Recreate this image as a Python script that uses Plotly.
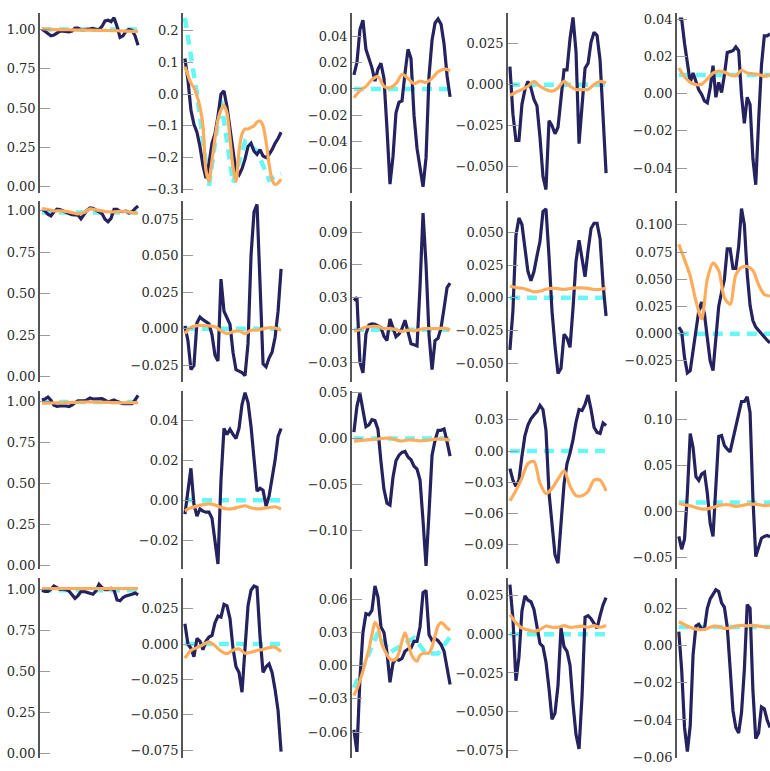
import numpy as np
import plotly.graph_objects as go

# ---------------- data ----------------
# raw_* : noisy per-step estimate (navy)
# smooth_* : smoothed estimate (orange)
# true_* : reference coefficient (cyan, dashed)
# suffix = row, column

raw_11 = [1.004, 0.99, 0.975, 0.96, 0.965, 0.98, 0.99, 0.99, 0.985, 0.985, 0.99, 1.01, 1.01, 1.0, 1.0, 1.0, 1.005,
          1.008, 1.0, 1.0, 1.02, 1.055, 1.06, 1.05, 1.075, 1.02, 0.95, 0.96, 0.99, 1.0, 0.995, 0.96, 0.90]
smooth_11 = [1.005, 1.003, 1.0, 0.999, 1.0, 0.998, 0.997, 0.998, 0.996, 0.995, 0.995, 0.994, 0.993, 0.992, 0.99,
             0.989, 0.988]
true_11 = [1.0, 1.0, 1.0, 1.0, 1.0, 1.0, 1.0, 1.0, 1.0]

raw_12 = [0.112, 0.045, -0.05, -0.095, -0.12, -0.165, -0.225, -0.265, -0.22, -0.155, -0.125, -0.07, 0.0, 0.01,
          -0.04, -0.11, -0.19, -0.245, -0.255, -0.235, -0.205, -0.165, -0.155, -0.18, -0.19, -0.175, -0.195, -0.2,
          -0.19, -0.175, -0.155, -0.14, -0.12]
smooth_12 = [0.086, 0.06, 0.035, 0.02, -0.005, -0.04, -0.1, -0.24, -0.275, -0.21, -0.14, -0.08, -0.05, -0.035,
             -0.06, -0.14, -0.23, -0.275, -0.18, -0.125, -0.11, -0.11, -0.105, -0.1, -0.088, -0.085, -0.1, -0.15,
             -0.22, -0.27, -0.285, -0.28, -0.268]
true_12 = [0.24, 0.0, -0.29, -0.02, -0.28, -0.15, -0.18, -0.27, -0.25]

raw_13 = [0.0107, 0.02, 0.045, 0.052, 0.03, 0.023, 0.016, 0.006, 0.015, 0.0195, 0.008, -0.03, -0.072, -0.0513,
          -0.018, -0.01, -0.009, 0.012, 0.03, 0.023, -0.02, -0.045, -0.058, -0.074, -0.052, 0.01, 0.037, 0.05,
          0.053, 0.049, 0.034, 0.01, -0.006]
smooth_13 = [-0.0067, -0.0012, 0.002, 0.007, 0.0095, 0.002, 0.001, 0.004, 0.011, 0.008, 0.004, 0.006, 0.005, 0.008,
             0.013, 0.015, 0.014]
true_13 = [0.0, 0.0, 0.0, 0.0, 0.0, 0.0, 0.0, 0.0, 0.0]

raw_14 = [0.011, -0.018, -0.034, -0.034, -0.012, -0.003, 0.002, -0.002, -0.009, -0.013, -0.032, -0.056, -0.064,
          -0.022, -0.025, -0.030, -0.026, -0.01, 0.009, 0.009, 0.028, 0.041, 0.02, -0.036, -0.012, 0.01, 0.013,
          0.026, 0.032, 0.03, 0.015, -0.018, -0.054]
smooth_14 = [-0.0066, -0.0046, -0.003, -0.001, 0.002, -0.001, -0.003, -0.004, -0.002, 0.002, -0.001, -0.003,
             -0.003, -0.003, 0.0, 0.002, 0.001]
true_14 = [0.0, 0.0, 0.0, 0.0, 0.0, 0.0, 0.0, 0.0, 0.0]

raw_15 = [0.040, 0.040, 0.027, 0.016, 0.006, 0.011, 0.006, 0.002, -0.0005, -0.004, -0.005, 0.003, 0.015, -0.002,
          0.006, 0.0005, 0.01, 0.022, 0.0225, 0.023, 0.025, 0.023, -0.001, -0.016, -0.002, -0.006, -0.035, -0.049,
          -0.015, 0.015, 0.031, 0.031, 0.032]
smooth_15 = [0.0137, 0.009, 0.006, 0.0048, 0.005, 0.0078, 0.011, 0.012, 0.0115, 0.01, 0.0095, 0.0125, 0.011,
             0.0106, 0.0102, 0.0092, 0.0101]
true_15 = [0.01, 0.01, 0.01, 0.01, 0.01, 0.01, 0.01, 0.01, 0.01]

raw_21 = [1.01, 1.0, 0.98, 0.97, 0.995, 1.01, 1.008, 1.002, 0.995, 0.985, 0.977, 0.976, 0.975, 0.952, 0.978, 1.003,
          1.018, 1.016, 1.005, 0.995, 0.984, 0.95, 0.935, 0.955, 1.01, 1.01, 0.998, 0.996, 0.998, 0.988, 0.995,
          1.014, 1.03]
smooth_21 = [1.014, 1.008, 1.0, 1.0, 0.997, 0.99, 0.982, 0.99, 1.012, 1.006, 1.0, 0.994, 0.994, 0.998, 0.996, 0.99,
             0.986]
true_21 = [0.99, 0.99, 0.99, 0.99, 0.99, 0.99, 0.99, 0.99, 0.99]

raw_22 = [0.002, -0.008, -0.028, -0.025, 0.004, 0.008, 0.0062, 0.005, 0.0035, -0.004, -0.018, -0.022, 0.034, 0.012,
          0.008, 0.003, -0.016, -0.028, -0.029, -0.030, -0.032, -0.01, 0.05, 0.08, 0.085, 0.026, -0.024, -0.026,
          -0.02, -0.016, -0.006, 0.012, 0.041]
smooth_22 = [-0.0033, 0.001, 0.0022, 0.0022, 0.002, 0.0013, -0.0013, -0.0033, -0.002, -0.0015, -0.0033, -0.001,
             -0.001, 0.0, 0.0007, 0.0005, -0.0011]
true_22 = [0.0, 0.0, 0.0, 0.0, 0.0, 0.0, 0.0, 0.0, 0.0]

raw_23 = [0.027, 0.030, -0.03, -0.04, -0.004, 0.0043, 0.0054, 0.005, 0.0035, 0.002, -0.006, -0.01, 0.01, 0.002,
          -0.0064, -0.004, 0.001, 0.0088, -0.0034, -0.013, -0.014, -0.015, 0.04, 0.108, 0.06, -0.005, -0.037, -0.01,
          -0.008, 0.002, 0.02, 0.039, 0.0432]
smooth_23 = [-0.0015, 0.0003, 0.0025, 0.003, 0.0028, 0.001, 0.001, 0.0, -0.0015, -0.0003, -0.001, 0.0003, 0.001,
             0.001, 0.001, 0.0015, -0.0003]
true_23 = [0.0, 0.0, 0.0, 0.0, 0.0, 0.0, 0.0, 0.0, 0.0]

raw_24 = [-0.040, -0.01, 0.0476, 0.061, 0.056, 0.036, 0.02, 0.013, 0.02, 0.032, 0.043, 0.066, 0.068, 0.032, -0.01,
          -0.037, -0.058, -0.054, -0.028, -0.031, -0.038, -0.008, 0.028, 0.044, 0.028, 0.016, 0.036, 0.053, 0.057,
          0.057, 0.045, 0.01, -0.014]
smooth_24 = [0.0088, 0.0078, 0.0072, 0.006, 0.0045, 0.005, 0.0065, 0.0072, 0.007, 0.0063, 0.007, 0.0075, 0.0075,
             0.0071, 0.0063, 0.0063, 0.0075]
true_24 = [0.0, 0.0, 0.0, 0.0, 0.0, 0.0, 0.0, 0.0, 0.0]

raw_25 = [0.006, 0.002, -0.022, -0.036, -0.034, -0.015, 0.005, 0.021, 0.029, 0.018, -0.004, -0.025, -0.034, 0.0,
          0.025, 0.038, 0.05, 0.078, 0.078, 0.06, 0.06, 0.08, 0.115, 0.1, 0.055, 0.026, 0.012, 0.006, 0.003, -0.001,
          -0.004, -0.006, -0.0084]
smooth_25 = [0.082, 0.068, 0.053, 0.030, 0.0136, 0.05, 0.0648, 0.058, 0.033, 0.027, 0.054, 0.0608, 0.0617, 0.058,
             0.045, 0.036, 0.0346]
true_25 = [0.0, 0.0, 0.0, 0.0, 0.0, 0.0, 0.0, 0.0, 0.0]

raw_31 = [1.012, 1.018, 1.03, 1.01, 0.98, 0.973, 0.975, 0.976, 0.975, 0.972, 0.98, 0.995, 1.006, 1.006, 1.006,
          1.012, 1.024, 1.018, 1.018, 1.022, 1.02, 1.01, 1.0, 1.006, 1.012, 1.002, 0.994, 0.989, 0.99, 0.992, 0.99,
          1.012, 1.04]
smooth_31 = [0.992, 0.993, 0.994, 0.995, 0.996, 0.997, 0.998, 0.999, 1.0, 0.999, 0.998, 0.997, 0.996, 0.995, 0.995,
             0.996, 0.996]
true_31 = [1.0, 1.0, 1.0, 1.0, 1.0, 1.0, 1.0, 1.0, 1.0]

raw_32 = [-0.007, 0.004, 0.016, -0.002, -0.008, -0.0044, -0.0055, -0.006, -0.006, -0.009, -0.02, -0.032, 0.01,
          0.036, 0.033, 0.0355, 0.033, 0.031, 0.036, 0.048, 0.054, 0.049, 0.037, 0.02, 0.0045, 0.006, 0.005, -0.003,
          0.002, 0.011, 0.02, 0.032, 0.036]
smooth_32 = [-0.0053, -0.0038, -0.003, -0.0022, -0.0018, -0.0024, -0.0036, -0.0044, -0.0042, -0.0034, -0.0028,
             -0.0038, -0.0044, -0.0041, -0.0037, -0.0033, -0.0044]
true_32 = [0.0, 0.0, 0.0, 0.0, 0.0, 0.0, 0.0, 0.0, 0.0]

raw_33 = [0.007, 0.035, 0.049, 0.03, 0.013, 0.015, 0.0205, 0.0195, 0.01, -0.025, -0.055, -0.07, -0.072, -0.042,
          -0.024, -0.018, -0.015, -0.014, -0.02, -0.023, -0.03, -0.033, -0.045, -0.089, -0.138, -0.08, -0.018,
          -0.002, 0.009, 0.009, 0.0105, -0.0036, -0.019]
smooth_33 = [-0.0028, -0.0022, -0.0015, -0.001, -0.0004, 0.0004, 0.0003, -0.0015, -0.0026, -0.0015, -0.0018,
             -0.0025, -0.002, -0.0012, -0.0003, -0.0005, -0.0018]
true_33 = [0.0, 0.0, 0.0, 0.0, 0.0, 0.0, 0.0, 0.0, 0.0]

raw_34 = [-0.017, -0.028, -0.034, -0.028, -0.005, 0.015, 0.025, 0.031, 0.0348, 0.038, 0.044, 0.04, 0.02, -0.04,
          -0.07, -0.1, -0.108, -0.072, -0.032, -0.012, -0.002, 0.011, 0.028, 0.04, 0.039, 0.045, 0.054, 0.04, 0.023,
          0.018, 0.017, 0.027, 0.0247]
smooth_34 = [-0.048, -0.038, -0.026, -0.012, -0.010, -0.031, -0.041, -0.036, -0.027, -0.019, -0.0337, -0.043,
             -0.043, -0.039, -0.028, -0.028, -0.0385]
true_34 = [0.0, 0.0, 0.0, 0.0, 0.0, 0.0, 0.0, 0.0, 0.0]

raw_35 = [-0.027, -0.041, -0.03, 0.02, 0.085, 0.07, 0.038, 0.034, 0.041, 0.043, 0.02, -0.013, -0.027, 0.03, 0.082,
          0.083, 0.072, 0.068, 0.065, 0.079, 0.093, 0.109, 0.12, 0.12, 0.125, 0.108, 0.015, -0.049, -0.04, -0.029,
          -0.027, -0.026, -0.0275]
smooth_35 = [0.0089, 0.0075, 0.0062, 0.0045, 0.003, 0.003, 0.0045, 0.0065, 0.0075, 0.0072, 0.0058, 0.0065, 0.0078,
             0.0082, 0.0076, 0.0066, 0.0071]
true_35 = [0.01, 0.01, 0.01, 0.01, 0.01, 0.01, 0.01, 0.01, 0.01]

raw_41 = [0.994, 0.988, 0.988, 1.0, 1.02, 1.01, 1.0, 1.0, 0.998, 0.99, 0.97, 0.945, 0.962, 0.986, 0.987, 0.98,
          0.972, 0.97, 0.99, 1.03, 1.01, 0.998, 0.998, 1.006, 0.995, 0.935, 0.93, 0.95, 0.96, 0.964, 0.97, 0.978,
          0.966]
smooth_41 = [1.005, 1.005, 1.004, 1.004, 1.005, 1.005, 1.004, 1.004, 1.005, 1.005, 1.004, 1.004, 1.005, 1.005,
             1.004, 1.004, 1.005]
true_41 = [0.995, 0.995, 0.995, 0.995, 0.995, 0.995, 0.995, 0.995, 0.995]

raw_42 = [0.0143, 0.0, -0.003, -0.009, 0.004, 0.002, -0.004, 0.002, 0.005, 0.006, 0.015, 0.0198, 0.019, 0.028,
          0.027, 0.018, -0.003, -0.016, -0.02, -0.034, -0.003, 0.027, 0.038, 0.041, 0.04, 0.005, -0.02, -0.016,
          -0.014, -0.02, -0.032, -0.047, -0.076]
smooth_42 = [-0.01, -0.0045, -0.0025, -0.0005, 0.0016, -0.0012, -0.005, -0.0068, -0.0043, -0.0035, -0.0065,
             -0.0058, -0.0045, -0.0038, -0.0025, -0.0022, -0.0053]
true_42 = [0.0, 0.0, 0.0, 0.0, 0.0, 0.0, 0.0, 0.0, 0.0]

raw_43 = [-0.058, -0.078, -0.012, 0.03, 0.047, 0.046, 0.05, 0.072, 0.062, 0.035, 0.03, 0.012, -0.015, 0.0024,
          0.006, 0.005, 0.0065, 0.013, 0.015, 0.016, 0.022, 0.022, 0.035, 0.066, 0.068, 0.028, 0.023, 0.0245,
          0.0225, 0.019, 0.013, -0.002, -0.017]
smooth_43 = [-0.027, -0.021, -0.0135, -0.005, 0.005, 0.015, 0.028, 0.039, 0.035, 0.022, 0.015, 0.01, 0.006, 0.005,
             0.006, 0.012, 0.022, 0.0296, 0.022, 0.011, 0.006, 0.004, 0.0095, 0.011, 0.0113, 0.0113, 0.017, 0.027,
             0.036, 0.039, 0.037, 0.034, 0.032]
true_43 = [-0.02, 0.005, 0.03, 0.012, 0.018, 0.025, 0.011, 0.011, 0.026]

raw_44 = [0.032, 0.01, -0.03, -0.015, 0.015, 0.0248, 0.022, 0.021, 0.016, 0.006, -0.006, -0.008, -0.018, -0.035,
          -0.055, -0.051, -0.033, 0.004, -0.008, -0.011, -0.02, -0.045, -0.065, -0.074, -0.04, 0.011, 0.012, 0.01,
          0.0068, 0.004, 0.012, 0.019, 0.0237]
smooth_44 = [0.0127, 0.0075, 0.004, 0.0028, 0.0018, 0.003, 0.0053, 0.0045, 0.0045, 0.0056, 0.0045, 0.0048, 0.0052,
             0.0045, 0.0055, 0.0045, 0.0057]
true_44 = [0.0, 0.0, 0.0, 0.0, 0.0, 0.0, 0.0, 0.0, 0.0]

raw_45 = [0.0075, -0.013, -0.044, -0.057, -0.043, -0.005, 0.0105, 0.0115, 0.009, 0.009, 0.02, 0.025, 0.0275, 0.03,
          0.029, 0.023, 0.0205, 0.01, -0.012, -0.035, -0.044, -0.047, -0.036, -0.013, 0.022, 0.02, -0.024, -0.05,
          -0.047, -0.033, -0.034, -0.04, -0.044]
smooth_45 = [0.0128, 0.0112, 0.0098, 0.0088, 0.0085, 0.0092, 0.0103, 0.0102, 0.0092, 0.0095, 0.0104, 0.0108,
             0.0106, 0.0108, 0.0104, 0.0100, 0.0098]
true_45 = [0.01, 0.01, 0.01, 0.01, 0.01, 0.01, 0.01, 0.01, 0.01]

series = [
    (raw_11, smooth_11, true_11), (raw_12, smooth_12, true_12), (raw_13, smooth_13, true_13),
    (raw_14, smooth_14, true_14), (raw_15, smooth_15, true_15),
    (raw_21, smooth_21, true_21), (raw_22, smooth_22, true_22), (raw_23, smooth_23, true_23),
    (raw_24, smooth_24, true_24), (raw_25, smooth_25, true_25),
    (raw_31, smooth_31, true_31), (raw_32, smooth_32, true_32), (raw_33, smooth_33, true_33),
    (raw_34, smooth_34, true_34), (raw_35, smooth_35, true_35),
    (raw_41, smooth_41, true_41), (raw_42, smooth_42, true_42), (raw_43, smooth_43, true_43),
    (raw_44, smooth_44, true_44), (raw_45, smooth_45, true_45),
]

# ---------------- layout ----------------
W, H = 770, 771
COL_PX = [(40, 140), (183, 283), (352, 452), (508, 608), (677, 770)]
ROW_PX = [(7, 190), (198, 382), (392, 573), (582, 765)]

# y-axis: (range, tick step, tick format) per panel, row-major
yaxes = [
    ((-0.0375, 1.106), 0.25, ".2f"), ((-0.311, 0.256), 0.1, ".1f"), ((-0.0786, 0.0576), 0.02, ".2f"),
    ((-0.066, 0.0438), 0.025, ".3f"), ((-0.0533, 0.0433), 0.02, ".2f"),
    ((-0.031, 1.062), 0.25, ".2f"), ((-0.0361, 0.0876), 0.025, ".3f"), ((-0.048, 0.1195), 0.03, ".2f"),
    ((-0.0642, 0.0743), 0.025, ".3f"), ((-0.044, 0.1222), 0.025, ".3f"),
    ((-0.026, 1.0645), 0.25, ".2f"), ((-0.0347, 0.0546), 0.02, ".2f"), ((-0.1418, 0.0512), 0.05, ".2f"),
    ((-0.114, 0.0575), 0.03, ".2f"), ((-0.0629, 0.131), 0.05, ".2f"),
    ((-0.03, 1.068), 0.25, ".2f"), ((-0.0805, 0.0465), 0.025, ".3f"), ((-0.0836, 0.0791), 0.03, ".2f"),
    ((-0.080, 0.0362), 0.025, ".3f"), ((-0.0605, 0.0362), 0.02, ".2f"),
]

NAVY = "#24235f"
ORANGE = "#ffad5c"
CYAN = "#66f7f7"
FONT = dict(family="DejaVu Serif", size=13, color="#2a2a2a")

fig = go.Figure()
layout = {}
for i, ((raw, smooth, true), (yr, step, fmt)) in enumerate(zip(series, yaxes)):
    r, c = divmod(i, 5)
    k = "" if i == 0 else str(i + 1)
    xref, yref = "x" + k, "y" + k

    fig.add_trace(go.Scatter(x=np.linspace(0, 1, len(true)), y=true, xaxis=xref, yaxis=yref, mode="lines",
                             line=dict(color=CYAN, width=4.5, dash="10px,7px"), hoverinfo="skip"))
    fig.add_trace(go.Scatter(x=np.linspace(0, 1, len(raw)), y=raw, xaxis=xref, yaxis=yref, mode="lines",
                             line=dict(color=NAVY, width=3.2)))
    fig.add_trace(go.Scatter(x=np.linspace(0, 1, len(smooth)), y=smooth, xaxis=xref, yaxis=yref, mode="lines",
                             line=dict(color=ORANGE, width=3.2, shape="spline", smoothing=0.8)))

    x0, x1 = COL_PX[c]
    y0, y1 = ROW_PX[r]
    layout["xaxis" + k] = dict(domain=[x0 / W, x1 / W], range=[-0.02, 1.0 if c == 4 else 1.02],
                               visible=False, anchor=yref, fixedrange=True)
    layout["yaxis" + k] = dict(domain=[1 - y1 / H, 1 - y0 / H], range=list(yr), anchor=xref,
                               tick0=0, dtick=step, tickformat=fmt, ticks="inside", ticklen=10,
                               tickwidth=1.4, tickcolor="#9a9a9a", showline=True, linecolor="#555555",
                               linewidth=1.5, showgrid=False, zeroline=False, tickfont=FONT, fixedrange=True)

fig.update_layout(**layout)
fig.update_layout(width=W, height=H, margin=dict(l=0, r=0, t=0, b=0), showlegend=False,
                  paper_bgcolor="white", plot_bgcolor="white")

fig.write_html("out.html")
